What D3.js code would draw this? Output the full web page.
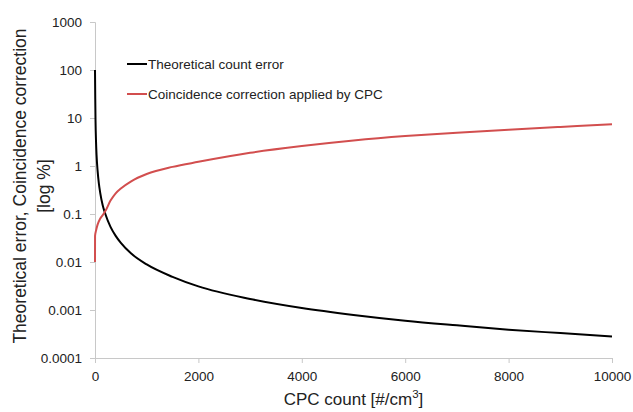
<!DOCTYPE html>
<html>
<head>
<meta charset="utf-8">
<script src="https://cdn.jsdelivr.net/npm/d3@7"></script>
<style>
  body { margin: 0; background: #fff; }
  text { font-family: "Liberation Sans", Arial, sans-serif; fill: #222; }
</style>
</head>
<body>
<div id="container"></div>
<script>
// Data
const errCounts = [0, 5, 10, 20, 30, 50, 75, 100, 150, 200, 300, 400, 500, 700, 1000, 1500, 2000, 3000, 4000, 5000, 6000, 7000, 8000, 9000, 10000];
const errValues = [100, 25, 9, 3.2, 1.7, 0.8, 0.43, 0.28, 0.15, 0.1, 0.054, 0.035, 0.025, 0.015, 0.0089, 0.0049, 0.0031, 0.0017, 0.0011, 0.00079, 0.0006, 0.00048, 0.00039, 0.00033, 0.00028];

const corrCounts = [0, 1, 20, 50, 100, 150, 200, 300, 400, 500, 700, 1000, 1500, 2000, 3000, 4000, 5000, 6000, 7000, 8000, 9000, 10000];
const corrValues = [0.01, 0.035, 0.045, 0.06, 0.08, 0.095, 0.115, 0.19, 0.27, 0.34, 0.48, 0.68, 0.96, 1.22, 1.88, 2.6, 3.4, 4.2, 4.95, 5.7, 6.5, 7.4];

const xTicks = [0, 2000, 4000, 6000, 8000, 10000];
const yTicks = [0.0001, 0.001, 0.01, 0.1, 1, 10, 100, 1000];
const yTickLabels = ["0.0001", "0.001", "0.01", "0.1", "1", "10", "100", "1000"];

const seriesNames = ["Theoretical count error", "Coincidence correction applied by CPC"];
const seriesColors = ["#000000", "#d24e4e"];

const width = 633, height = 412;
const margin = { left: 95, right: 21, top: 22, bottom: 54 };

const svg = d3.select("#container").append("svg")
    .attr("width", width)
    .attr("height", height);

const x = d3.scaleLinear().domain([0, 10000]).range([margin.left, width - margin.right]);
const y = d3.scaleLog().domain([0.0001, 1000]).range([height - margin.bottom, margin.top]);

// axes
const xAxis = d3.axisBottom(x).tickValues(xTicks).tickSize(5).tickPadding(8).tickFormat(d3.format("d"));
const yAxis = d3.axisLeft(y).tickValues(yTicks).tickSize(5).tickPadding(8)
    .tickFormat((d, i) => yTickLabels[i]);

const gx = svg.append("g")
    .attr("transform", `translate(0,${height - margin.bottom})`)
    .call(xAxis);
const gy = svg.append("g")
    .attr("transform", `translate(${margin.left},0)`)
    .call(yAxis);

[gx, gy].forEach(g => {
    g.select(".domain").attr("stroke", "#c8c8c8");
    g.selectAll(".tick line").attr("stroke", "#c8c8c8");
    g.selectAll(".tick text")
        .style("font-family", "'Liberation Sans', Arial, sans-serif")
        .style("font-size", "13.5px")
        .attr("fill", "#222");
});

// lines
const line = d3.line().x(d => x(d[0])).y(d => y(d[1])).curve(d3.curveMonotoneX);

svg.append("path")
    .datum(errCounts.map((c, i) => [c, errValues[i]]))
    .attr("fill", "none")
    .attr("stroke", seriesColors[0])
    .attr("stroke-width", 2)
    .attr("d", line);

svg.append("path")
    .datum(corrCounts.map((c, i) => [c, corrValues[i]]))
    .attr("fill", "none")
    .attr("stroke", seriesColors[1])
    .attr("stroke-width", 2)
    .attr("d", line);

// legend
const legend = svg.append("g").attr("transform", "translate(127,64)");
seriesNames.forEach((name, i) => {
    const row = legend.append("g").attr("transform", `translate(0,${i * 30})`);
    row.append("line")
        .attr("x1", 0).attr("x2", 20)
        .attr("stroke", seriesColors[i]).attr("stroke-width", 2);
    row.append("text")
        .attr("x", 21).attr("y", 5)
        .style("font-size", "13.5px")
        .text(name);
});

// axis titles
const xTitle = svg.append("text")
    .attr("x", (margin.left + width - margin.right) / 2)
    .attr("y", 405)
    .attr("text-anchor", "middle")
    .style("font-size", "17px");
xTitle.append("tspan").text("CPC count [#/cm");
xTitle.append("tspan").attr("dy", -7).style("font-size", "11.5px").text("3");
xTitle.append("tspan").attr("dy", 7).text("]");

const yTitle = svg.append("text")
    .attr("transform", "translate(26,186) rotate(-90)")
    .attr("text-anchor", "middle")
    .style("font-size", "17.5px");
yTitle.append("tspan").attr("x", 0).attr("y", 0).text("Theoretical error, Coincidence correction");
yTitle.append("tspan").attr("x", 0).attr("y", 24).text("[log %]");
</script>
</body>
</html>
